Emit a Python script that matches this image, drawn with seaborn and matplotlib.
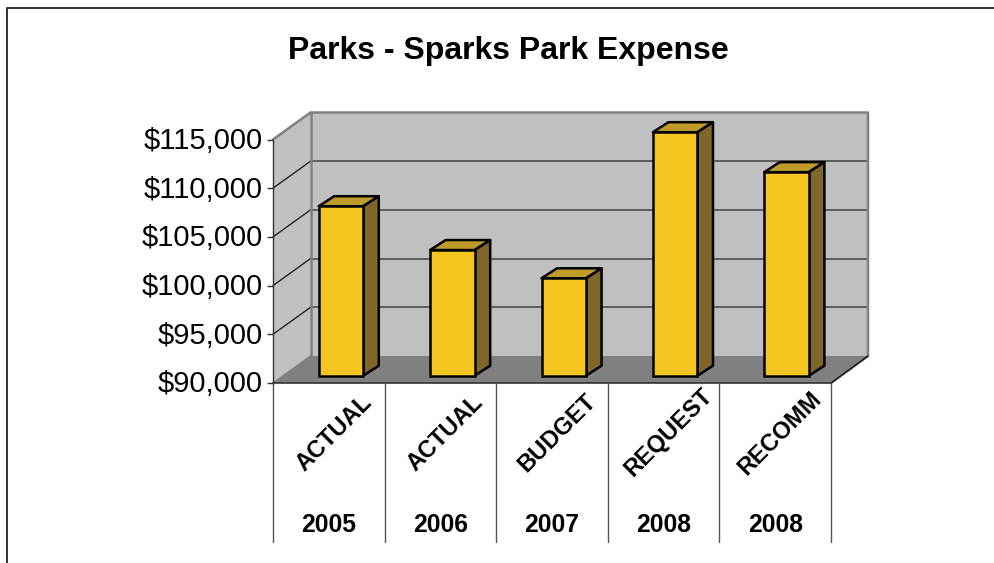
import matplotlib
matplotlib.use("Agg")
import matplotlib.pyplot as plt
from matplotlib.transforms import ScaledTranslation
import pandas as pd
import seaborn as sns

# Values
labels = ["ACTUAL", "ACTUAL", "BUDGET", "REQUEST", "RECOMM"]
years = ["2005", "2006", "2007", "2008", "2008"]
expense = [107400, 102900, 100000, 115000, 110900]
ticks = [90000, 95000, 100000, 105000, 110000, 115000]

W, H = 994, 563
FRONT_L, FRONT_R, FRONT_B, FRONT_T = 273, 831, 383, 139.5  # front plane, pixels
DX, DY = 37.5, 27  # depth of the fake 3D box
BAR_DX, BAR_DY = 15.5, 10  # depth of a bar

FRONT = "#F5C61F"
TOP = "#BF9B2C"
SIDE = "#7F6729"

sns.set_theme(style="white")
plt.rcParams["font.family"] = ["Liberation Sans", "DejaVu Sans"]

fig = plt.figure(figsize=(W / 100, H / 100), dpi=100)


def px_axes(l, r, b, t):
    return fig.add_axes([l / W, 1 - b / H, (r - l) / W, (b - t) / H])


# Background layer in pixel coordinates: walls, floor and outer frame
bg = fig.add_axes([0, 0, 1, 1])
bg.set_xlim(0, W)
bg.set_ylim(H, 0)
bg.axis("off")
bg.plot([7, 7, W], [H, 7.5, 7.5], color="#222222", lw=1.3)

back_l, back_r = FRONT_L + DX, FRONT_R + DX - 0.5
back_t, back_b = FRONT_T - DY, FRONT_B - DY
bg.fill([FRONT_L, back_l, back_l, FRONT_L], [FRONT_T, back_t, back_b, FRONT_B], color="#C0C0C0", lw=0)
bg.fill([back_l, back_r, back_r, back_l], [back_t, back_t, back_b, back_b], color="#C0C0C0", lw=0)
bg.fill([FRONT_L, back_l, back_r, FRONT_R], [FRONT_B, back_b, back_b, FRONT_B], color="#808080", lw=0)

# Gridlines on the side and back walls
scale = (FRONT_B - FRONT_T) / (ticks[-1] - ticks[0])
for t in ticks[1:-1]:
    y = FRONT_B - (t - ticks[0]) * scale
    bg.plot([FRONT_L, back_l], [y, y - DY], color="#222222", lw=1)
    bg.plot([back_l, back_r], [y - DY, y - DY], color="#555555", lw=1.3)

# Wall outlines
bg.plot([FRONT_L, back_l, back_r, back_r, FRONT_R],
        [FRONT_T, back_t, back_t, back_b, FRONT_B], color="#808080", lw=1.8)
bg.plot([back_l, back_l], [back_t, back_b], color="#808080", lw=1.8)
bg.plot([back_r, FRONT_R], [back_b, FRONT_B], color="#111111", lw=1)
bg.plot([FRONT_L, back_l], [FRONT_B, back_b], color="#808080", lw=1)

# Front plane axes carries the value ticks and category labels
ax_front = px_axes(FRONT_L, FRONT_R, FRONT_B, FRONT_T)
ax_front.patch.set_visible(False)
ax_front.set_xlim(-0.5, 4.5)
ax_front.set_ylim(ticks[0], ticks[-1])
for name in ["top", "right", "bottom"]:
    ax_front.spines[name].set_visible(False)
ax_front.spines["left"].set_color("#333333")
ax_front.spines["left"].set_linewidth(1)
ax_front.set_yticks(ticks)
ax_front.set_yticklabels([f"${t:,}" for t in ticks], fontsize=21, color="black")
ax_front.tick_params(axis="y", left=True, length=4.5, width=1, color="#333333", pad=3)
for lab in ax_front.get_yticklabels():
    lab.set_transform(lab.get_transform() + ScaledTranslation(0, 1.5 / 100, fig.dpi_scale_trans))
ax_front.set_xticks(range(len(labels)))
ax_front.set_xticklabels(labels, fontsize=17, fontweight="bold", color="black",
                         rotation=45, ha="center", va="center", rotation_mode="anchor")
ax_front.tick_params(axis="x", bottom=False, pad=30)
for lab in ax_front.get_xticklabels():
    lab.set_transform(lab.get_transform() + ScaledTranslation(5 / 100, 0, fig.dpi_scale_trans))
ax_front.axhline(ticks[0], color="#333333", lw=1.2, clip_on=False)

# Separators and the year row under the category labels
sep_bottom = -(542 - FRONT_B) / (FRONT_B - FRONT_T)
for i in range(len(labels) + 1):
    ax_front.plot([i - 0.5, i - 0.5], [0, sep_bottom], transform=ax_front.get_xaxis_transform(),
                  color="#555555", lw=1, clip_on=False)
for i, yr in enumerate(years):
    ax_front.annotate(yr, xy=(i, 0), xycoords=ax_front.get_xaxis_transform(),
                      xytext=(0, -142.5 * 0.72), textcoords="offset points",
                      ha="center", va="center", fontsize=17.8, fontweight="bold", color="black")

# Bars sit a little behind the front plane
ax = px_axes(285.3, 842.3, 375.7, 375.7 - (FRONT_B - FRONT_T))
ax.patch.set_visible(False)
df = pd.DataFrame({"cat": [f"{l} {y}" for l, y in zip(labels, years)], "expense": expense})
sns.barplot(data=df, x="cat", y="expense", color=FRONT, saturation=1, width=0.4,
            edgecolor="black", linewidth=1.8, ax=ax, zorder=3)
ax.set_xlim(-0.5, 4.5)
ax.set_ylim(ticks[0], ticks[-1])
ax.axis("off")

dx = BAR_DX * 5 / 557
dy = BAR_DY / scale
for bar in ax.patches:
    x0, x1 = bar.get_x(), bar.get_x() + bar.get_width()
    top = bar.get_height()
    bar.set_y(ticks[0])
    bar.set_height(top - ticks[0])
    bar.set_clip_on(False)
    ax.fill([x0, x0 + dx, x1 + dx, x1], [top, top + dy, top + dy, top], facecolor=TOP,
            edgecolor="black", lw=1.8, clip_on=False, joinstyle="round", zorder=2)
    ax.fill([x1, x1 + dx, x1 + dx, x1], [ticks[0], ticks[0] + dy, top + dy, top], facecolor=SIDE,
            edgecolor="black", lw=1.8, clip_on=False, joinstyle="round", zorder=2)

fig.text(508.5 / W, 1 - 51 / H, "Parks - Sparks Park Expense", ha="center", va="center",
         fontsize=23, fontweight="bold", color="black")

fig.savefig("out.png", dpi=100)
